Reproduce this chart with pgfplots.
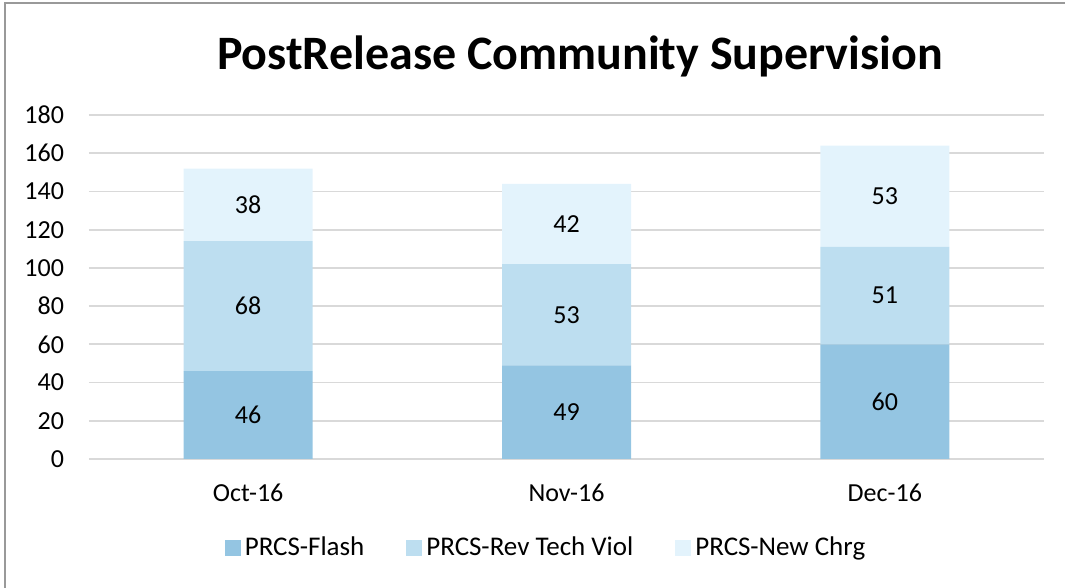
\documentclass[border=0pt]{standalone}
\usepackage{pgfplots}
\pgfplotsset{compat=1.18}
\usepackage{fontspec}
\setmainfont{Carlito}

\definecolor{flash}{HTML}{94C5E2}
\definecolor{revtech}{HTML}{BDDEF0}
\definecolor{newchrg}{HTML}{E3F3FC}
\definecolor{gridgray}{HTML}{D9D9D9}

\begin{document}
\begin{tikzpicture}
\useasboundingbox (0,0) rectangle (532.5pt,294pt);
\draw[color=gray!80, line width=1pt] (2.5pt,0) -- (2.5pt,292.5pt) -- (532.5pt,292.5pt);
\node[font=\bfseries\fontsize{24}{28}\selectfont] at (290pt,266pt) {PostRelease Community Supervision};

\begin{axis}[
    at={(44.5pt,64.5pt)}, anchor=south west,
    scale only axis,
    width=477.5pt, height=172pt,
    ybar stacked,
    bar width=64.5pt,
    xmin=-0.5, xmax=2.5,
    ymin=0, ymax=180,
    ytick={0,20,...,180},
    xtick=data,
    xticklabels={Oct-16, Nov-16, Dec-16},
    axis line style={draw=none},
    major tick length=0pt,
    ymajorgrids=true,
    grid style={gridgray, line width=0.9pt},
    tick label style={font=\fontsize{13}{15}\selectfont},
    /pgf/number format/assume math mode=true,
    xticklabel style={yshift=-9pt},
    yticklabel style={xshift=-9pt},
    legend style={
        at={(0.4796,-0.2587)}, anchor=center,
        legend columns=3, draw=none, fill=none,
        font=\fontsize{13.5}{16}\selectfont,
        /tikz/every even column/.append style={column sep=19pt}
    },
    legend image code/.code={\fill[#1] (0pt,-4pt) rectangle (8pt,4pt);},
    nodes near coords,
    every node near coord/.append style={
        anchor=center, font=\fontsize{13}{15}\selectfont, text=black},
]
\addplot[fill=flash, draw=none] coordinates {(0,46) (1,49) (2,60)};
\addplot[fill=revtech, draw=none] coordinates {(0,68) (1,53) (2,51)};
\addplot[fill=newchrg, draw=none] coordinates {(0,38) (1,42) (2,53)};
\legend{PRCS-Flash, PRCS-Rev Tech Viol, PRCS-New Chrg}
\end{axis}
\end{tikzpicture}
\end{document}
